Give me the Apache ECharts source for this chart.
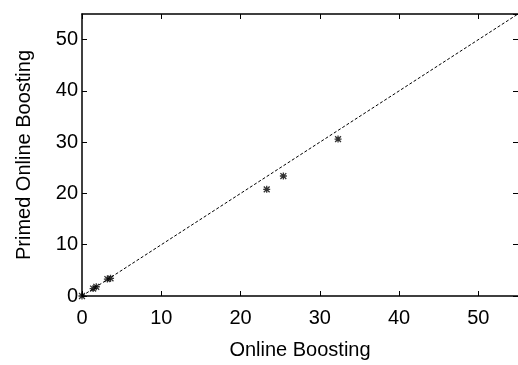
<!DOCTYPE html>
<html>
<head>
<meta charset="utf-8">
<script src="https://cdn.jsdelivr.net/npm/echarts@6/dist/echarts.min.js"></script>
<style>
  html, body { margin: 0; padding: 0; background: #fff; }
  #chart { width: 518px; height: 365px; }
</style>
</head>
<body>
<div id="chart"></div>
<script>
const onlineBoosting = [0, 1.4, 1.8, 3.2, 3.6, 23.3, 25.4, 32.3];
const primedOnlineBoosting = [0, 1.45, 1.8, 3.3, 3.45, 20.8, 23.4, 30.6];
const diagonalX = [0, 55];
const diagonalY = [0, 55];

const points = onlineBoosting.map((x, i) => [x, primedOnlineBoosting[i]]);
const diagonal = diagonalX.map((x, i) => [x, diagonalY[i]]);

const chart = echarts.init(document.getElementById('chart'));

const font = 'Liberation Sans, Arial, sans-serif';
// fresh objects per axis, and never snap to zero (mirror axes would jump to the other side)
const axisLine = (show = true) => ({ show, onZero: false, lineStyle: { color: '#000', width: 1.5 } });
const axisTick = () => ({ show: true, inside: true, length: 5, lineStyle: { color: '#000', width: 1 } });

const option = {
	animation: false,
	backgroundColor: '#fff',
	grid: { left: 82, right: 0, top: 14, bottom: 64 },
	xAxis: [
		{
			type: 'value',
			min: 0,
			max: 55,
			interval: 10,
			name: 'Online Boosting',
			nameLocation: 'middle',
			nameGap: 44,
			nameTextStyle: { fontFamily: font, fontSize: 20, color: '#000' },
			axisLine: axisLine(),
			axisTick: axisTick(),
			splitLine: { show: false },
			axisLabel: {
				fontFamily: font,
				fontSize: 20,
				color: '#000',
				margin: 12,
				showMaxLabel: false,
			},
		},
		{
			type: 'value',
			position: 'top',
			min: 0,
			max: 55,
			interval: 10,
			axisLine: axisLine(),
			axisTick: axisTick(),
			axisLabel: { show: false },
			splitLine: { show: false },
		},
	],
	yAxis: [
		{
			type: 'value',
			min: 0,
			max: 55,
			interval: 10,
			name: 'Primed Online Boosting',
			nameLocation: 'middle',
			nameGap: 48,
			nameTextStyle: { fontFamily: font, fontSize: 20, color: '#000' },
			axisLine: axisLine(),
			axisTick: axisTick(),
			splitLine: { show: false },
			axisLabel: {
				fontFamily: font,
				fontSize: 20,
				color: '#000',
				margin: 4,
				showMaxLabel: false,
			},
		},
		{
			// the right frame edge sits just past the canvas, only its ticks show
			type: 'value',
			position: 'right',
			min: 0,
			max: 55,
			interval: 10,
			axisLine: axisLine(false),
			axisTick: axisTick(),
			axisLabel: { show: false },
			splitLine: { show: false },
		},
	],
	series: [
		{
			type: 'line',
			data: diagonal,
			symbol: 'none',
			lineStyle: { color: '#000', width: 1, type: [3, 2] },
			silent: true,
		},
		{
			type: 'scatter',
			data: points,
			symbol: 'path://M0,0L10,10M10,0L0,10M5,-1L5,11M-1,5L11,5',
			symbolSize: 7,
			itemStyle: { color: 'rgba(0,0,0,0)', borderColor: '#000', borderWidth: 1.3 },
		},
	],
};

chart.setOption(option);
</script>
</body>
</html>
